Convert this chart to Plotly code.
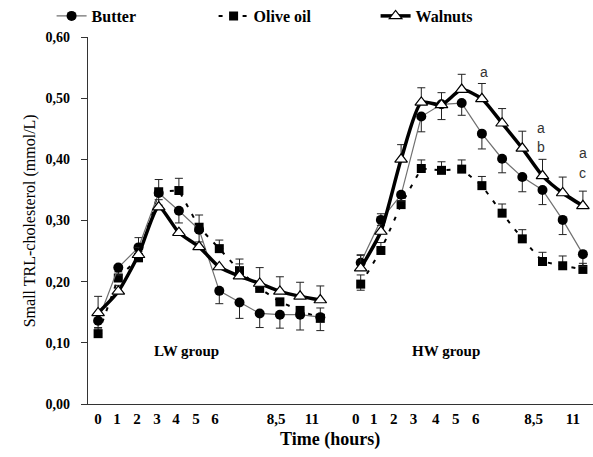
import plotly.graph_objects as go

# ---- data ----
sample_index = list(range(12))          # 12 sampling points per group
group_names = ["LW group", "HW group"]
group_offset = [0, 13]

butter_lw = [0.136, 0.223, 0.256, 0.345, 0.316, 0.285, 0.185, 0.166, 0.148, 0.146, 0.146, 0.142]
butter_hw = [0.231, 0.301, 0.342, 0.470, 0.490, 0.492, 0.442, 0.401, 0.371, 0.350, 0.301, 0.245]
olive_lw = [0.115, 0.206, 0.239, 0.347, 0.349, 0.289, 0.254, 0.218, 0.189, 0.167, 0.153, 0.140]
olive_hw = [0.196, 0.251, 0.326, 0.385, 0.382, 0.384, 0.357, 0.312, 0.270, 0.233, 0.226, 0.220]
walnut_lw = [0.149, 0.184, 0.244, 0.322, 0.280, 0.257, 0.224, 0.209, 0.197, 0.184, 0.176, 0.170]
walnut_hw = [0.222, 0.282, 0.400, 0.493, 0.489, 0.514, 0.499, 0.459, 0.418, 0.373, 0.345, 0.324]

butter_err_up_lw = [0, 0, 0.016, 0, 0, 0, 0, 0, 0, 0, 0, 0]
butter_err_dn_lw = [0.012, 0.012, 0, 0.02, 0.02, 0.02, 0.021, 0.026, 0.023, 0.022, 0.025, 0.022]
butter_err_up_hw = [0.012, 0.01, 0, 0, 0, 0, 0, 0, 0, 0, 0, 0]
butter_err_dn_hw = [0, 0, 0.01, 0.025, 0.025, 0.02, 0.025, 0.023, 0.024, 0.024, 0.024, 0.02]
olive_err_up_lw = [0.01, 0.01, 0.01, 0.02, 0.02, 0.02, 0.014, 0.019, 0, 0, 0, 0.017]
olive_err_dn_lw = [0, 0, 0, 0, 0, 0, 0, 0, 0, 0, 0, 0]
olive_err_up_hw = [0.015, 0.013, 0.012, 0.014, 0.014, 0.015, 0.015, 0.015, 0.015, 0.015, 0.016, 0.01]
olive_err_dn_hw = [0.01, 0, 0, 0, 0, 0, 0, 0, 0, 0, 0, 0]
walnut_err_up_lw = [0.027, 0.01, 0.012, 0.012, 0, 0, 0, 0.02, 0.026, 0.024, 0.023, 0.023]
walnut_err_dn_lw = [0, 0, 0, 0, 0, 0, 0, 0, 0, 0, 0, 0]
walnut_err_up_hw = [0.022, 0.01, 0.024, 0.024, 0.02, 0.025, 0.025, 0.024, 0.028, 0.027, 0.026, 0.024]
walnut_err_dn_hw = [0, 0, 0, 0, 0, 0, 0, 0, 0, 0, 0, 0]

# tick labels (hours) and where they sit along each group's sample axis
tick_text = ["0", "1", "2", "3", "4", "5", "6", "8,5", "11"]
tick_pos_lw = [0, 0.94, 1.93, 2.92, 3.86, 4.85, 5.79, 8.81, 10.58]
tick_pos_hw = [-0.25, 0.64, 1.63, 2.62, 3.71, 4.70, 5.69, 8.56, 10.5]

y_tick_vals = [0, 0.1, 0.2, 0.3, 0.4, 0.5, 0.6]
y_tick_text = ["0,00", "0,10", "0,20", "0,30", "0,40", "0,50", "0,60"]

# significance letters (HW group) : (sample index, y, text)
sig_letters = [(6.1, 0.543, "a"), (8.95, 0.452, "a"), (8.95, 0.420, "b"),
               (11.0, 0.410, "a"), (11.0, 0.378, "c")]


def join(a, b):
    return list(a) + [None] + list(b)


x_all = join([i + group_offset[0] for i in sample_index], [i + group_offset[1] for i in sample_index])

SERIF = "Liberation Serif, Times New Roman, serif"

fig = go.Figure()

series = [
    dict(name="Olive oil", y=join(olive_lw, olive_hw),
         up=join(olive_err_up_lw, olive_err_up_hw), dn=join(olive_err_dn_lw, olive_err_dn_hw),
         line=dict(color="black", width=2, dash="4px,8px"),
         marker=dict(symbol="square", size=9, color="black")),
    dict(name="Butter", y=join(butter_lw, butter_hw),
         up=join(butter_err_up_lw, butter_err_up_hw), dn=join(butter_err_dn_lw, butter_err_dn_hw),
         line=dict(color="#707070", width=1.2),
         marker=dict(symbol="circle", size=10, color="black")),
    dict(name="Walnuts", y=join(walnut_lw, walnut_hw),
         up=join(walnut_err_up_lw, walnut_err_up_hw), dn=join(walnut_err_dn_lw, walnut_err_dn_hw),
         line=dict(color="black", width=3.5, shape="spline", smoothing=0.6),
         marker=dict(symbol="triangle-up", size=11, color="white", line=dict(color="black", width=1.2))),
]
legend_rank = {"Butter": 1, "Olive oil": 2, "Walnuts": 3}

for s in series:
    fig.add_trace(go.Scatter(
        x=x_all, y=s["y"], mode="lines+markers", name=s["name"],
        line=s["line"], marker=s["marker"], connectgaps=False,
        legendrank=legend_rank[s["name"]],
        error_y=dict(type="data", array=s["up"], arrayminus=s["dn"], symmetric=False,
                     color="#222222", thickness=1, width=4),
    ))

tickvals = [p + group_offset[0] for p in tick_pos_lw] + [p + group_offset[1] for p in tick_pos_hw]
ticktext = tick_text + tick_text

annotations = []
for gi, gname in enumerate(group_names):
    annotations.append(dict(x=group_offset[gi] + (4.4 if gi == 0 else 4.2), y=0.087, text=gname,
                            showarrow=False,
                            font=dict(family=SERIF, size=15, color="black", weight="bold"),
                            xref="x", yref="y"))
for (xi, yv, t) in sig_letters:
    annotations.append(dict(x=group_offset[1] + xi, y=yv, text=t, showarrow=False,
                            font=dict(family="Liberation Sans, Arial, sans-serif", size=14, color="#333"),
                            xref="x", yref="y"))
annotations.append(dict(x=0.48, y=-0.098, xref="paper", yref="paper", yanchor="middle",
                        text="<b>Time (hours)</b>",
                        showarrow=False, font=dict(family=SERIF, size=18, color="black")))
annotations.append(dict(x=-0.137, y=0.5, xref="paper", yref="paper",
                        text="Small TRL-cholesterol (mmol/L)", textangle=-90, showarrow=False,
                        font=dict(family=SERIF, size=16, color="black")))

fig.update_layout(
    width=593, height=457,
    margin=dict(l=88, r=0, t=37, b=53, autoexpand=False),
    plot_bgcolor="white", paper_bgcolor="white",
    showlegend=True,
    legend=dict(orientation="h", xref="container", yref="container",
                x=0.087, xanchor="left", y=0.965, yanchor="middle",
                entrywidth=117, entrywidthmode="pixels", traceorder="normal",
                font=dict(family=SERIF, size=16, color="black", weight="bold"),
                bgcolor="rgba(0,0,0,0)"),
    xaxis=dict(range=[-0.5, 24.5], showgrid=False, zeroline=False, showline=True,
               linecolor="#333", linewidth=1.2, tickmode="array", tickvals=tickvals,
               ticktext=ticktext, ticks="", ticklabelstandoff=1, automargin=False,
               tickfont=dict(family=SERIF, size=15, color="black", weight="bold")),
    yaxis=dict(range=[0, 0.6], showgrid=False, zeroline=False, showline=True,
               linecolor="#333", linewidth=1.2, tickmode="array", tickvals=y_tick_vals,
               ticktext=y_tick_text, ticks="outside", ticklen=6, tickcolor="#333",
               ticklabelstandoff=8, automargin=False,
               tickfont=dict(family=SERIF, size=14, color="black", weight="bold")),
    annotations=annotations,
)

fig.write_html("out.html", config={"displayModeBar": False},
               post_script="document.body.style.margin='0';")
